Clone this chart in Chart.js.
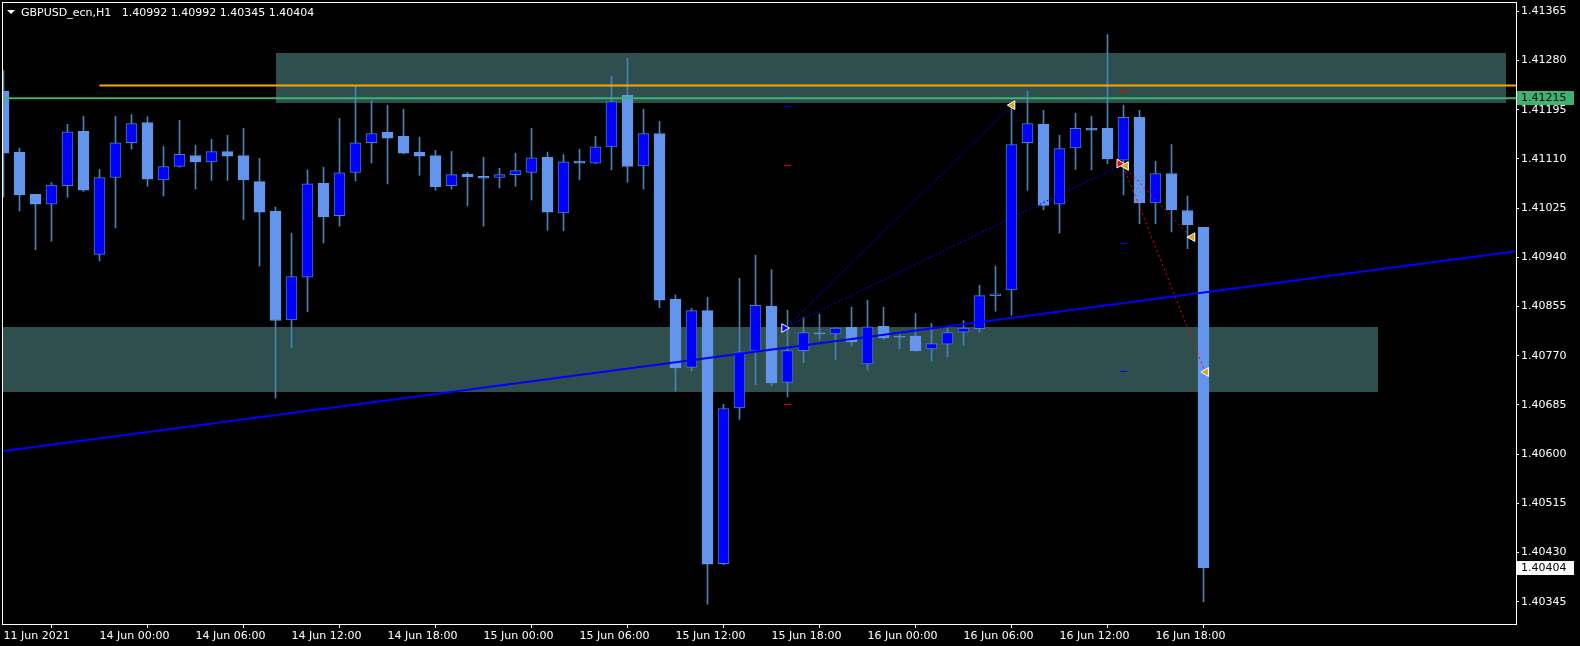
<!DOCTYPE html>
<html>
<head>
<meta charset="utf-8">
<title>GBPUSD_ecn,H1</title>
<script src="https://cdn.jsdelivr.net/npm/chart.js@4.4.0/dist/chart.umd.min.js"></script>
<style>
  html, body { margin: 0; padding: 0; background: #000000; }
  canvas { display: block; }
</style>
</head>
<body>
<canvas id="chart-h1" width="1580" height="646"></canvas>
<script>
// H1 bars, first visible bar = 11 Jun 2021 18:00, last = 16 Jun 21:00
var opens = [1.41227, 1.41122, 1.41049, 1.41032, 1.41064, 1.41158, 1.40945, 1.41078, 1.41138, 1.41173,
  1.41074, 1.41097, 1.41116, 1.41105, 1.41123, 1.41116, 1.41071, 1.41020, 1.40832, 1.40906,
  1.41068, 1.41012, 1.41087, 1.41138, 1.41156, 1.41149, 1.41122, 1.41116, 1.41064, 1.41084,
  1.41080, 1.41078, 1.41083, 1.41087, 1.41113, 1.41017, 1.41106, 1.41103, 1.41131, 1.41220,
  1.41098, 1.41154, 1.40868, 1.40750, 1.40848, 1.40411, 1.40680, 1.40778, 1.40856, 1.40724,
  1.40779, 1.40809, 1.40808, 1.40819, 1.40756, 1.40821, 1.40803, 1.40804, 1.40782, 1.40790,
  1.40811, 1.40817, 1.40874, 1.40884, 1.41138, 1.41170, 1.41032, 1.41129, 1.41163, 1.41163,
  1.41108, 1.41182, 1.41034, 1.41085, 1.41021, 1.40992];
var highs = [1.41263, 1.41129, 1.41049, 1.41069, 1.41170, 1.41184, 1.41092, 1.41184, 1.41187, 1.41183,
  1.41132, 1.41177, 1.41134, 1.41144, 1.41151, 1.41163, 1.41111, 1.41027, 1.40982, 1.41091,
  1.41096, 1.41180, 1.41236, 1.41211, 1.41203, 1.41196, 1.41148, 1.41125, 1.41123, 1.41087,
  1.41113, 1.41094, 1.41120, 1.41163, 1.41122, 1.41118, 1.41127, 1.41149, 1.41253, 1.41284,
  1.41196, 1.41175, 1.40875, 1.40852, 1.40871, 1.40686, 1.40904, 1.40944, 1.40919, 1.40849,
  1.40836, 1.40842, 1.40819, 1.40854, 1.40866, 1.40854, 1.40811, 1.40843, 1.40826, 1.40818,
  1.40831, 1.40892, 1.40925, 1.41202, 1.41227, 1.41194, 1.41151, 1.41189, 1.41184, 1.41325,
  1.41203, 1.41194, 1.41106, 1.41135, 1.41046, 1.40992];
var lows = [1.41044, 1.41020, 1.40953, 1.40968, 1.41044, 1.41054, 1.40934, 1.40991, 1.41127, 1.41063,
  1.41046, 1.41096, 1.41058, 1.41073, 1.41073, 1.41005, 1.40925, 1.40697, 1.40784, 1.40846,
  1.40965, 1.40994, 1.41072, 1.41103, 1.41067, 1.41119, 1.41082, 1.41056, 1.41058, 1.41029,
  1.40994, 1.41060, 1.41063, 1.41039, 1.40987, 1.40986, 1.41074, 1.41102, 1.41091, 1.41070,
  1.41058, 1.40853, 1.40709, 1.40744, 1.40341, 1.40409, 1.40660, 1.40720, 1.40718, 1.40699,
  1.40758, 1.40797, 1.40763, 1.40787, 1.40745, 1.40798, 1.40782, 1.40778, 1.40761, 1.40768,
  1.40788, 1.40811, 1.40847, 1.40840, 1.41056, 1.41022, 1.40982, 1.41092, 1.41091, 1.41102,
  1.41048, 1.40998, 1.40998, 1.40984, 1.40955, 1.40345];
var closes = [1.41120, 1.41048, 1.41032, 1.41065, 1.41157, 1.41056, 1.41078, 1.41138, 1.41171, 1.41075,
  1.41097, 1.41118, 1.41105, 1.41123, 1.41115, 1.41074, 1.41018, 1.40831, 1.40907, 1.41067,
  1.41010, 1.41086, 1.41138, 1.41154, 1.41146, 1.41120, 1.41115, 1.41062, 1.41083, 1.41079,
  1.41077, 1.41083, 1.41090, 1.41112, 1.41018, 1.41105, 1.41103, 1.41131, 1.41209, 1.41097,
  1.41154, 1.40866, 1.40749, 1.40848, 1.40410, 1.40679, 1.40777, 1.40857, 1.40723, 1.40779,
  1.40810, 1.40808, 1.40818, 1.40794, 1.40820, 1.40801, 1.40802, 1.40779, 1.40791, 1.40810,
  1.40818, 1.40874, 1.40877, 1.41135, 1.41171, 1.41030, 1.41128, 1.41163, 1.41160, 1.41110,
  1.41182, 1.41034, 1.41085, 1.41022, 1.40996, 1.40404];

// time axis labels and the bar they sit on
var tickBars = [0, 6, 12, 18, 24, 30, 36, 42, 48, 54, 60, 66, 72];
var tickLabels = ["11 Jun 2021", "14 Jun 00:00", "14 Jun 06:00", "14 Jun 12:00", "14 Jun 18:00",
  "15 Jun 00:00", "15 Jun 06:00", "15 Jun 12:00", "15 Jun 18:00", "16 Jun 00:00",
  "16 Jun 06:00", "16 Jun 12:00", "16 Jun 18:00"];
var priceTicks = [1.41365, 1.41280, 1.41195, 1.41110, 1.41025, 1.40940, 1.40855, 1.40770,
  1.40685, 1.40600, 1.40515, 1.40430, 1.40345];

// drawn objects: zones, levels, trendline, order lines
var zoneUpper = [17, 93.9, 1.41293, 1.41206];
var zoneLower = [-1, 85.9, 1.40819, 1.40708];
var orangeLevel = [6, 95, 1.41237];
var greenLevel = [-1, 95, 1.41215];
var trendBars = [-0.1, 94.6];
var trendPrices = [1.40605, 1.40951];
var buyLine1 = [[49, 1.40821], [63.03, 1.41203]];
var buyLine2 = [[49, 1.40821], [69.8, 1.41099]];
var sellLine1 = [[70, 1.41099], [74.2, 1.40975]];
var sellLine2 = [[70, 1.41097], [75.1, 1.40742]];
var closeMarks = [[63.05, 1.41203], [70.15, 1.41098], [74.3, 1.40975], [75.15, 1.40742]];
var buyMark = [[48.8, 1.40818]];
var sellMark = [[69.75, 1.41102]];
var redDashes = [[49, 1.40686], [49, 1.41099], [70, 1.41227]];
var blueDashes = [[49, 1.41201], [70, 1.40964], [70, 1.40743]];

var headerText = "GBPUSD_ecn,H1   1.40992 1.40992 1.40345 1.40404";
var bidPrice = 1.40404;

// visible window (16 px per bar)
var xMin = -0.09375;
var xMax = 94.53125;
var yMin = 1.4030664;
var yMax = 1.4138124;

function pts(list) {
  return list.map(function (p) { return { x: p[0], y: p[1] }; });
}

var bodyData = [];
var wickData = [];
var bodyFill = [];
var bodyEdge = [];
for (var i = 0; i < opens.length; i++) {
  bodyData.push({ x: i, y: [opens[i], closes[i]] });
  wickData.push({ x: i, y: [lows[i], highs[i]] });
  var up = closes[i] > opens[i];
  bodyFill.push(up ? "#0000FF" : "#6495ED");
  bodyEdge.push(up ? "#4682B4" : "#6495ED");
}

// no label overhang padding, the plot sits at a fixed place
function noPad(scale) {
  scale.paddingLeft = 0;
  scale.paddingRight = 0;
  scale.paddingTop = 0;
  scale.paddingBottom = 0;
}

// rectangles behind the candles
var zonesPlugin = {
  id: "zones",
  beforeDatasetsDraw: function (chart) {
    var ctx = chart.ctx;
    var xs = chart.scales.x;
    var ys = chart.scales.y;
    var a = chart.chartArea;
    ctx.save();
    ctx.beginPath();
    ctx.rect(a.left, a.top, a.right - a.left, a.bottom - a.top);
    ctx.clip();
    ctx.fillStyle = "#2F4F4F";
    [zoneUpper, zoneLower].forEach(function (z) {
      var x0 = Math.round(xs.getPixelForValue(z[0]));
      var x1 = Math.round(xs.getPixelForValue(z[1]));
      var y0 = Math.round(ys.getPixelForValue(z[2]));
      var y1 = Math.round(ys.getPixelForValue(z[3]));
      ctx.fillRect(x0, y0, x1 - x0, y1 - y0);
    });
    ctx.restore();
  }
};

// frame, header and price tags on the axis
var framePlugin = {
  id: "frame",
  afterDraw: function (chart) {
    var ctx = chart.ctx;
    var a = chart.chartArea;
    var ys = chart.scales.y;
    ctx.save();
    ctx.strokeStyle = "#FFFFFF";
    ctx.lineWidth = 1;
    ctx.strokeRect(a.left + 0.5, a.top + 0.5, a.right - a.left, a.bottom - a.top);

    // header
    ctx.fillStyle = "#FFFFFF";
    ctx.beginPath();
    ctx.moveTo(7, 10);
    ctx.lineTo(15, 10);
    ctx.lineTo(11, 14);
    ctx.closePath();
    ctx.fill();
    ctx.font = "11px 'DejaVu Sans'";
    ctx.textBaseline = "middle";
    ctx.textAlign = "left";
    ctx.fillText(headerText, 21, 13);

    // price tags
    function tag(price, bg) {
      var y = Math.round(ys.getPixelForValue(price));
      ctx.fillStyle = bg;
      ctx.fillRect(a.right + 1, y - 7, 57, 14);
      ctx.fillStyle = "#000000";
      ctx.fillText(price.toFixed(5), a.right + 5, y + 0.5);
    }
    tag(greenLevel[2], "#3CB371");
    tag(bidPrice, "#FFFFFF");
    ctx.restore();
  }
};

Chart.defaults.font.family = "'DejaVu Sans'";
Chart.defaults.font.size = 11;
Chart.defaults.color = "#FFFFFF";

var ctx = document.getElementById("chart-h1").getContext("2d");
var myChart = new Chart(ctx, {
  type: "bar",
  data: {
    datasets: [
      { type: "line", data: pts([[trendBars[0], trendPrices[0]], [trendBars[1], trendPrices[1]]]),
        borderColor: "#0000FF", borderWidth: 2, pointRadius: 0, order: 1 },
      { type: "line", data: pts([[orangeLevel[0], orangeLevel[2]], [orangeLevel[1], orangeLevel[2]]]),
        borderColor: "#FFA500", borderWidth: 2, pointRadius: 0, order: 2 },
      { type: "line", data: pts([[greenLevel[0], greenLevel[2]], [greenLevel[1], greenLevel[2]]]),
        borderColor: "#3CB371", borderWidth: 2, pointRadius: 0, order: 2 },
      { type: "line", data: pts(buyLine1), borderColor: "#0000FF", borderWidth: 1, borderDash: [2, 2], pointRadius: 0, order: 3 },
      { type: "line", data: pts(buyLine2), borderColor: "#0000FF", borderWidth: 1, borderDash: [2, 2], pointRadius: 0, order: 3 },
      { type: "line", data: pts(sellLine1), borderColor: "#FF0000", borderWidth: 1, borderDash: [2, 3], pointRadius: 0, order: 3 },
      { type: "line", data: pts(sellLine2), borderColor: "#FF0000", borderWidth: 1, borderDash: [2, 3], pointRadius: 0, order: 3 },
      { type: "line", data: pts(closeMarks), showLine: false, pointStyle: "triangle", rotation: -90,
        pointRadius: 5, backgroundColor: "#DAA520", borderColor: "#FFFFFF", borderWidth: 1, order: 0 },
      { type: "line", data: pts(buyMark), showLine: false, pointStyle: "triangle", rotation: 90,
        pointRadius: 5, backgroundColor: "#0000FF", borderColor: "#FFFFFF", borderWidth: 1, order: 0 },
      { type: "line", data: pts(sellMark), showLine: false, pointStyle: "triangle", rotation: 90,
        pointRadius: 5, backgroundColor: "#FF0000", borderColor: "#FFFFFF", borderWidth: 1, order: 0 },
      { type: "line", data: pts(redDashes), showLine: false, pointStyle: "line", pointRadius: 3.5,
        borderColor: "#FF0000", borderWidth: 1, order: 4 },
      { type: "line", data: pts(blueDashes), showLine: false, pointStyle: "line", pointRadius: 3.5,
        borderColor: "#0000FF", borderWidth: 1, order: 4 },
      { data: bodyData, backgroundColor: bodyFill, borderColor: bodyEdge, borderWidth: 1,
        borderSkipped: false, barThickness: 11, grouped: false, minBarLength: 1, order: 9 },
      { data: wickData, backgroundColor: "#4682B4", borderWidth: 0,
        barThickness: 1, grouped: false, order: 10 }
    ]
  },
  options: {
    responsive: false,
    devicePixelRatio: 1,
    animation: false,
    events: [],
    layout: { autoPadding: false, padding: { left: 2, top: 2, right: 0, bottom: 0 } },
    plugins: { legend: { display: false }, tooltip: { enabled: false } },
    scales: {
      x: {
        type: "linear",
        min: xMin,
        max: xMax,
        offset: false,
        bounds: "data",
        afterBuildTicks: function (scale) {
          scale.ticks = tickBars.map(function (b) { return { value: b }; });
        },
        afterFit: function (scale) { scale.height = 22; noPad(scale); },
        grid: { drawOnChartArea: false, drawTicks: true, tickLength: 4, color: "#FFFFFF", tickColor: "#FFFFFF" },
        border: { display: false },
        ticks: {
          color: "#FFFFFF", align: "start", autoSkip: false, maxRotation: 0, minRotation: 0, padding: 2,
          callback: function (v, idx) { return tickLabels[idx]; }
        }
      },
      y: {
        type: "linear",
        position: "right",
        min: yMin,
        max: yMax,
        bounds: "data",
        afterBuildTicks: function (scale) {
          scale.ticks = priceTicks.map(function (p) { return { value: p }; });
        },
        afterFit: function (scale) { scale.width = 64; noPad(scale); },
        grid: { drawOnChartArea: false, drawTicks: true, tickLength: 3, color: "#FFFFFF", tickColor: "#FFFFFF" },
        border: { display: false },
        ticks: {
          color: "#FFFFFF", padding: 2,
          callback: function (v) { return Number(v).toFixed(5); }
        }
      }
    }
  },
  plugins: [zonesPlugin, framePlugin]
});
</script>
</body>
</html>
